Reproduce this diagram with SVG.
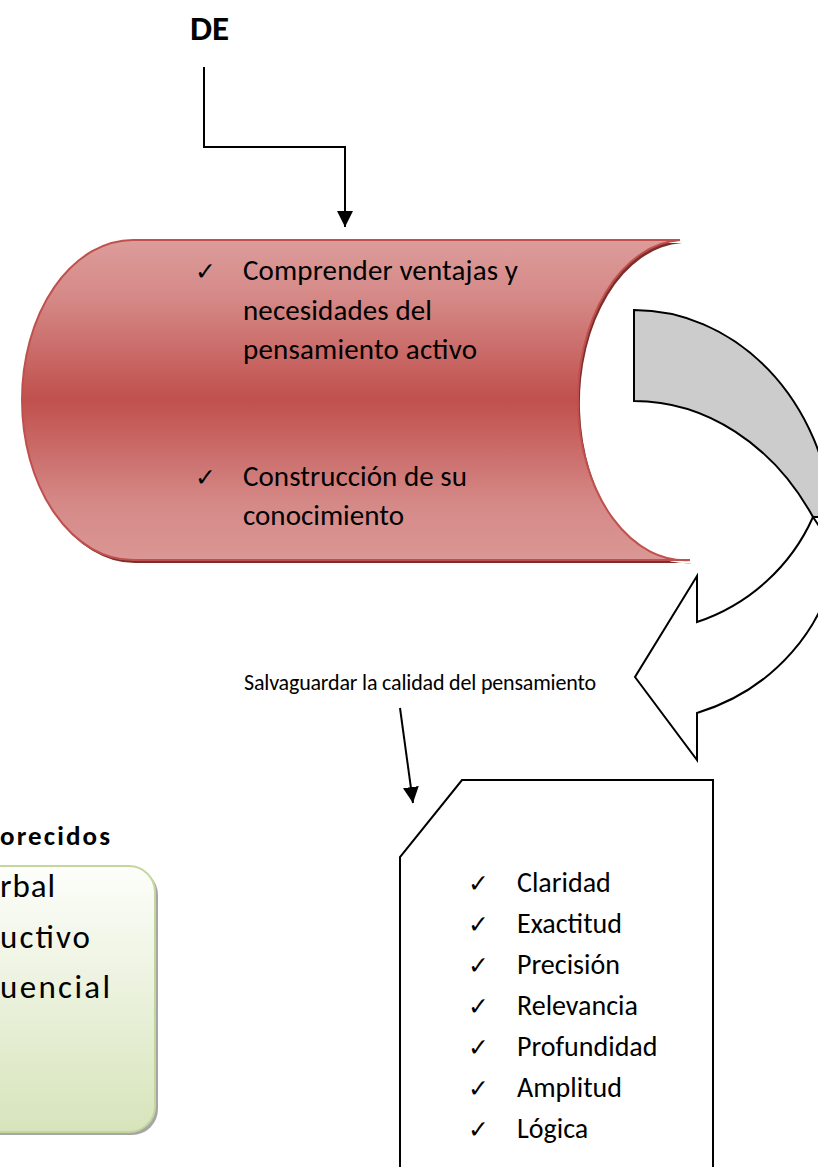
<svg xmlns="http://www.w3.org/2000/svg" width="818" height="1167" viewBox="0 0 818 1167">
<defs>
<linearGradient id="redg" x1="0" y1="0" x2="0" y2="1">
<stop offset="0" stop-color="#dc9c9a"/>
<stop offset="0.18" stop-color="#d58987"/>
<stop offset="0.5" stop-color="#c0504d"/>
<stop offset="0.82" stop-color="#d58987"/>
<stop offset="1" stop-color="#da9795"/>
</linearGradient>
<linearGradient id="greeng" x1="0" y1="0" x2="0" y2="1">
<stop offset="0" stop-color="#fdfefb"/>
<stop offset="1" stop-color="#d7e4bb"/>
</linearGradient>
<marker id="ah" markerUnits="userSpaceOnUse" markerWidth="16" markerHeight="16" refX="16" refY="8" orient="auto">
<path d="M0,0 L16,8 L0,16 Z" fill="#000"/>
</marker>
<style>
.t{font-family:Calibri,Carlito,Lato,"Liberation Sans",sans-serif;fill:#000}
.ck{font-family:"DejaVu Sans",sans-serif;fill:#000;font-size:25px}
.ln{fill:none;stroke:#000;stroke-width:2}
</style>
</defs>

<g id="de">
<text class="t" x="190" y="40" font-size="35" font-weight="bold">DE</text>
</g>

<g id="red-shape">
<path d="M133,240 H680 A107,160 0 0,0 690,560 H133 A111,160 0 0,1 133,240 Z" fill="#7d2d2b" transform="translate(2,3)"/>
<path d="M133,240 H680 A107,160 0 0,0 690,560 H133 A111,160 0 0,1 133,240 Z" fill="url(#redg)" stroke="#c0504d" stroke-width="2"/>
<text class="ck" x="195" y="280">✓</text>
<text class="t" x="243" y="280" font-size="29" textLength="275">Comprender ventajas y</text>
<text class="t" x="243" y="320" font-size="29" textLength="189">necesidades del</text>
<text class="t" x="243" y="359" font-size="29" textLength="234">pensamiento activo</text>
<text class="ck" x="195" y="486">✓</text>
<text class="t" x="243" y="486" font-size="29" textLength="224">Construcción de su</text>
<text class="t" x="243" y="525" font-size="29" textLength="161">conocimiento</text>
</g>

<g id="curved-arrow">
<path d="M634,310 A200,230 0 0,1 833,517 L813,517 A215,260 0 0,0 634,401 Z" fill="#cccccc" stroke="#000" stroke-width="2"/>
<path d="M813,517 L837,553 A205,192 0 0,1 697,713 L697,760 L635,677 L697,576 L697,622 A195,192 0 0,0 813,517 Z" fill="#fff" stroke="#000" stroke-width="2"/>
</g>

<g id="label">
<text class="t" x="244" y="690" font-size="22" textLength="352">Salvaguardar la calidad del pensamiento</text>
</g>

<g id="green-box">
<text class="t" x="0" y="845" font-size="27" font-weight="bold" textLength="110">orecidos</text>
<rect x="-40" y="869" width="198" height="266" rx="26" fill="#a6a6a6"/>
<rect x="-43" y="866" width="198" height="266" rx="26" fill="url(#greeng)" stroke="#c3d69b" stroke-width="2"/>
<text class="t" x="0" y="897" font-size="33" textLength="55">rbal</text>
<text class="t" x="0" y="948" font-size="33" textLength="90">uctivo</text>
<text class="t" x="0" y="998" font-size="33" textLength="110">uencial</text>
</g>

<g id="doc-box">
<path d="M462,780 H713 V1180 H400 V857 Z" fill="#fff" stroke="#000" stroke-width="2"/>
<text class="ck" x="468" y="892">✓</text>
<text class="t" x="517" y="892" font-size="28">Claridad</text>
<text class="ck" x="468" y="933">✓</text>
<text class="t" x="517" y="933" font-size="28">Exactitud</text>
<text class="ck" x="468" y="974">✓</text>
<text class="t" x="517" y="974" font-size="28">Precisión</text>
<text class="ck" x="468" y="1015">✓</text>
<text class="t" x="517" y="1015" font-size="28">Relevancia</text>
<text class="ck" x="468" y="1056">✓</text>
<text class="t" x="517" y="1056" font-size="28">Profundidad</text>
<text class="ck" x="468" y="1097">✓</text>
<text class="t" x="517" y="1097" font-size="28">Amplitud</text>
<text class="ck" x="468" y="1138">✓</text>
<text class="t" x="517" y="1138" font-size="28">Lógica</text>
</g>

<g id="connectors">
<path class="ln" d="M204,67 V147 H345 V227" marker-end="url(#ah)"/>
<path class="ln" d="M400,708 L413,803" marker-end="url(#ah)"/>
</g>
</svg>
